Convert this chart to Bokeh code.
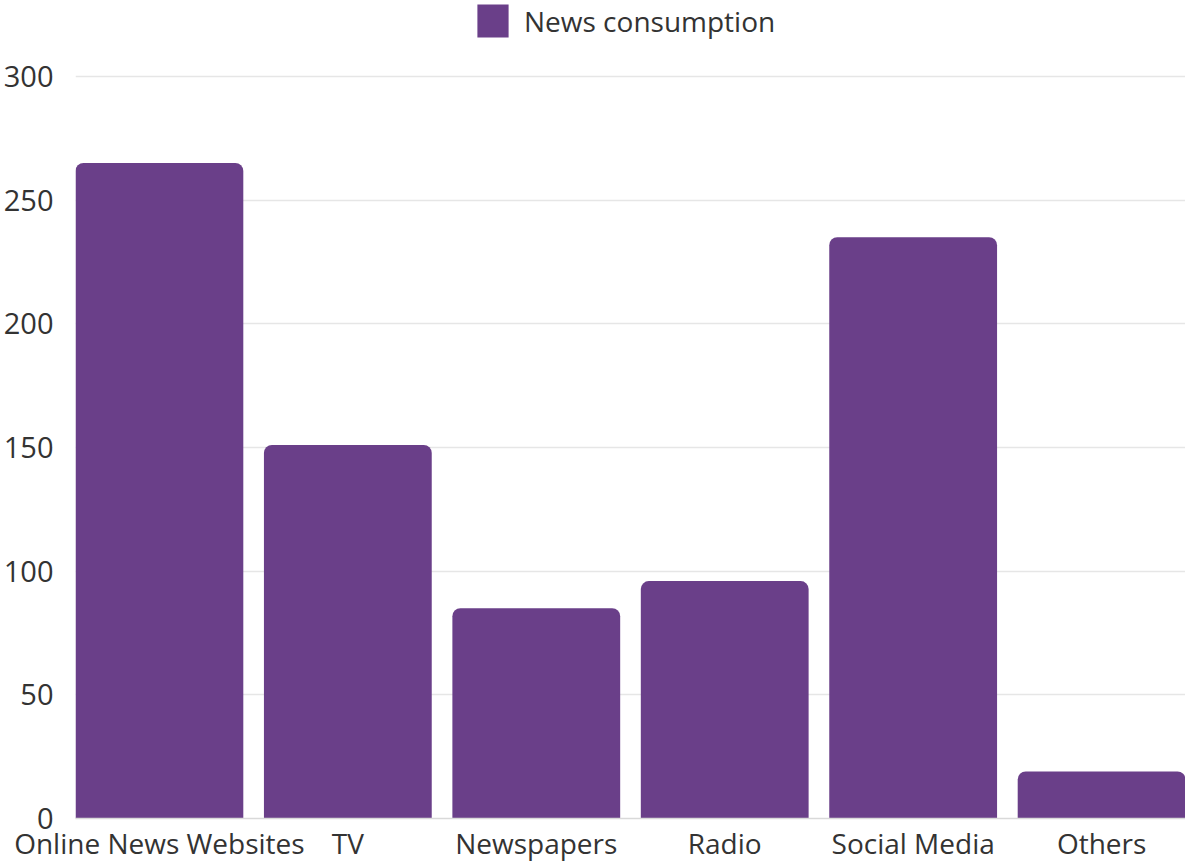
from bokeh.plotting import figure
from bokeh.models import FactorRange, Range1d, ColumnDataSource, Legend, LegendItem, FixedTicker
from bokeh.embed import file_html
from bokeh.resources import INLINE

categories = ["Online News Websites", "TV", "Newspapers", "Radio", "Social Media", "Others"]
values = [265, 151, 85, 96, 235, 19]
series_name = "News consumption"
y_ticks = [0, 50, 100, 150, 200, 250, 300]

BAR = "#6a3f89"
FONT = "Open Sans"

src = ColumnDataSource(dict(cat=categories, val=values))

p = figure(
    width=1185, height=865,
    x_range=FactorRange(factors=categories, factor_padding=0.123, range_padding=0),
    y_range=Range1d(0, 330.7),
    output_backend="svg", toolbar_location=None,
    min_border_left=74, min_border_right=0, min_border_top=0, min_border_bottom=47,
)
p.outline_line_color = None
p.background_fill_color = "white"

r = p.vbar(x="cat", top="val", width=1.0, source=src, fill_color=BAR, line_color=None,
           border_radius=(8, 8, 0, 0))

p.xgrid.grid_line_color = None
p.ygrid.grid_line_color = "#e6e6e6"
p.ygrid.grid_line_width = 1.5

p.yaxis.ticker = FixedTicker(ticks=y_ticks)
p.yaxis.axis_line_color = None
p.yaxis.major_tick_line_color = None
p.yaxis.minor_tick_line_color = None
p.yaxis.major_tick_out = 0
p.yaxis.major_tick_in = 0
p.yaxis.minor_tick_out = 0
p.yaxis.major_label_text_font = FONT
p.yaxis.major_label_text_font_size = "29px"
p.yaxis.major_label_text_color = "#333333"
p.yaxis.major_label_standoff = 22

p.xaxis.axis_line_color = "#d9d9d9"
p.xaxis.axis_line_width = 1.5
p.xaxis.major_tick_line_color = None
p.xaxis.minor_tick_line_color = None
p.xaxis.major_tick_out = 0
p.xaxis.major_tick_in = 0
p.xaxis.minor_tick_out = 0
p.xaxis.major_label_text_font = FONT
p.xaxis.major_label_text_font_size = "28px"
p.xaxis.major_label_text_color = "#333333"
p.xaxis.major_label_standoff = 5

legend = Legend(items=[LegendItem(label=series_name, renderers=[r])],
                location=(398, 777), orientation="horizontal",
                border_line_color=None, background_fill_alpha=0,
                glyph_width=39, glyph_height=41, label_height=41,
                label_standoff=12, padding=0, margin=0,
                label_text_font=FONT, label_text_font_size="28px",
                label_text_color="#333333")
p.add_layout(legend, "center")

open("out.html", "w").write(file_html(p, INLINE))
